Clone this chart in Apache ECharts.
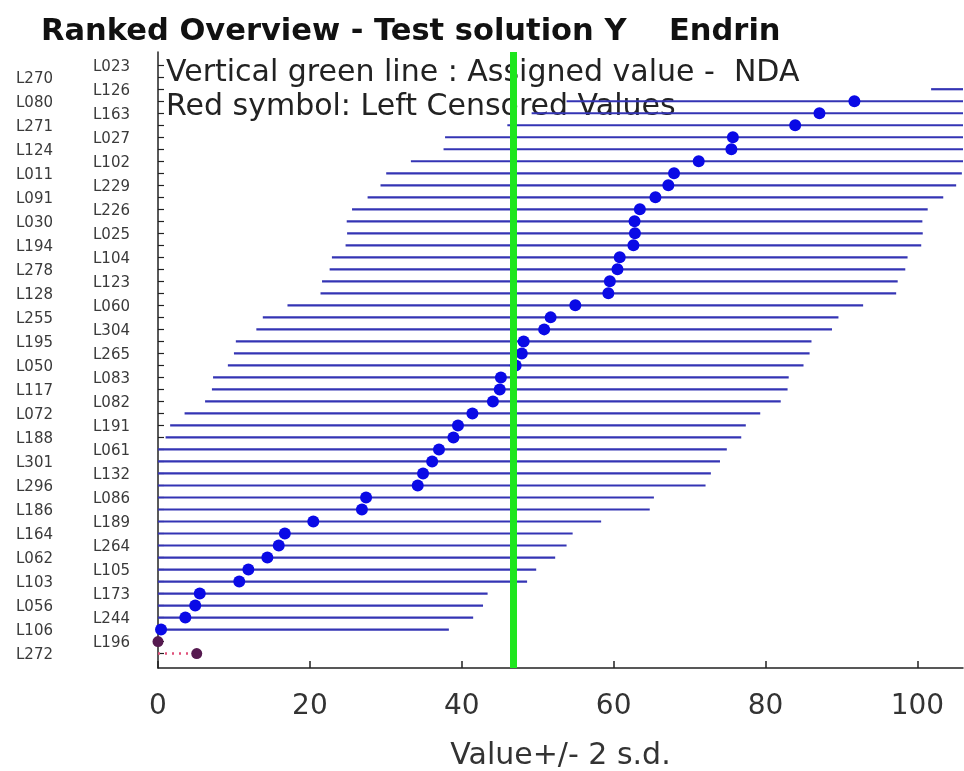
<!DOCTYPE html>
<html>
<head>
<meta charset="utf-8">
<script src="https://cdn.jsdelivr.net/npm/echarts@6/dist/echarts.min.js"></script>
<style>
html,body{margin:0;padding:0;background:#ffffff;}
#chart{width:964px;height:771px;}
</style>
</head>
<body>
<div id="chart"></div>
<script>
// Labs ranked from bottom (index 0) to top (index 49)
const labs = [
  'L272','L196','L106','L244','L056','L173','L103','L105','L062','L264',
  'L164','L189','L186','L086','L296','L132','L301','L061','L188','L191',
  'L072','L082','L117','L083','L050','L265','L195','L304','L255','L060',
  'L128','L123','L278','L104','L194','L025','L030','L226','L091','L229',
  'L011','L102','L124','L027','L271','L163','L080','L126','L270','L023'
];
// Reported values (top rows lie beyond the axis)
const values = [
  5.1, 0, 0.4, 3.6, 4.9, 5.5, 10.7, 11.9, 14.4, 15.9,
  16.7, 20.45, 26.85, 27.4, 34.2, 34.9, 36.1, 37.0, 38.9, 39.5,
  41.4, 44.1, 45.0, 45.15, 47.1, 47.9, 48.15, 50.85, 51.7, 54.95,
  59.3, 59.5, 60.5, 60.8, 62.6, 62.8, 62.75, 63.45, 65.5, 67.2,
  67.95, 71.2, 75.5, 75.7, 83.9, 87.1, 91.7, 139.7, 150, 160
];
// Left-censored flags (red symbols)
const censored = [
  1, 1, 0, 0, 0, 0, 0, 0, 0, 0,
  0, 0, 0, 0, 0, 0, 0, 0, 0, 0,
  0, 0, 0, 0, 0, 0, 0, 0, 0, 0,
  0, 0, 0, 0, 0, 0, 0, 0, 0, 0,
  0, 0, 0, 0, 0, 0, 0, 0, 0, 0
];
const twoSD = 37.9;
const assignedValue = 46.8;
const xTickValues = [0, 20, 40, 60, 80, 100];

const rowIndex = labs.map((_, i) => i);
const intervalData = [];
const pointData = [];
const censoredData = [];
const censoredLineData = [];
values.forEach((v, i) => {
  if (censored[i]) {
    censoredData.push([v, i]);
    if (v > 0) censoredLineData.push([0, v, i]);
  } else {
    intervalData.push([v - twoSD, v + twoSD, i]);
    pointData.push([v, i]);
  }
});

function hLine(color, width, dash) {
  return function (params, api) {
    const a = api.coord([api.value(0), api.value(2)]);
    const b = api.coord([api.value(1), api.value(2)]);
    const cs = params.coordSys;
    const x1 = Math.max(a[0], cs.x);
    const x2 = Math.min(b[0], cs.x + cs.width);
    if (x2 <= x1) return null;
    return {
      type: 'line',
      shape: { x1: x1, y1: a[1], x2: x2, y2: a[1] },
      style: { stroke: color, lineWidth: width, lineDash: dash || null }
    };
  };
}

const chart = echarts.init(document.getElementById('chart'), null, { renderer: 'canvas' });
const font = 'DejaVu Sans';

chart.setOption({
  backgroundColor: '#ffffff',
  animation: false,
  title: [
    {
      text: 'Ranked Overview - Test solution Y    Endrin',
      left: 36, top: 12,
      textStyle: { fontFamily: font, fontWeight: 'bold', fontSize: 30.5, color: '#111111' }
    },
    {
      text: 'Vertical green line : Assigned value -  NDA',
      left: 161, top: 53, z: 1,
      textStyle: { fontFamily: font, fontWeight: 'normal', fontSize: 30, color: '#222222' }
    },
    {
      text: 'Red symbol: Left Censored Values',
      left: 161, top: 87, z: 1,
      textStyle: { fontFamily: font, fontWeight: 'normal', fontSize: 30, color: '#222222' }
    }
  ],
  grid: { left: 158, right: 1, top: 52, bottom: 103, containLabel: false, outerBoundsMode: 'none' },
  xAxis: {
    type: 'value',
    min: 0, max: 106,
    name: 'Value+/- 2 s.d.',
    nameLocation: 'middle',
    nameGap: 73,
    nameTextStyle: { fontFamily: font, fontSize: 30, color: '#333333' },
    axisLine: { show: true, onZero: false, lineStyle: { color: '#222222', width: 1.5 } },
    axisTick: { show: true, inside: true, length: 7, customValues: xTickValues, lineStyle: { color: '#222222', width: 1.5 } },
    axisLabel: {
      customValues: xTickValues,
      fontFamily: font, fontSize: 28, color: '#333333', margin: 25
    },
    splitLine: { show: false }
  },
  yAxis: {
    type: 'value',
    min: -1.2, max: 50.1,
    axisLine: { show: true, onZero: false, lineStyle: { color: '#222222', width: 1.5 } },
    axisTick: { show: true, inside: true, length: 6, customValues: rowIndex, lineStyle: { color: '#222222', width: 1.2 } },
    axisLabel: {
      customValues: rowIndex,
      margin: 28,
      formatter: function (v) {
        const i = Math.round(v);
        const name = labs[i] || '';
        return i % 2 === 0 ? '{l|' + name + '}' : '{r|' + name + '}';
      },
      rich: {
        l: { fontFamily: font, fontSize: 15, color: '#3a3a3a', padding: [3, 77, 0, 0] },
        r: { fontFamily: font, fontSize: 15, color: '#3a3a3a', padding: [3, 0, 0, 0] }
      }
    },
    splitLine: { show: false }
  },
  series: [
    {
      name: 'interval',
      type: 'custom',
      z: 2,
      renderItem: hLine('#3434b4', 2.2),
      encode: { x: [0, 1], y: 2 },
      data: intervalData
    },
    {
      name: 'censoredLine',
      type: 'custom',
      z: 2,
      renderItem: hLine('#e0507a', 2.5, [2, 5]),
      encode: { x: [0, 1], y: 2 },
      data: censoredLineData
    },
    {
      name: 'value',
      type: 'scatter',
      z: 3,
      clip: true,
      symbol: 'circle',
      symbolSize: 12,
      itemStyle: { color: '#0a0ae6', opacity: 1 },
      data: pointData
    },
    {
      name: 'censored',
      type: 'scatter',
      z: 3,
      clip: false,
      symbol: 'circle',
      symbolSize: 11,
      itemStyle: { color: '#561a50', opacity: 1 },
      data: censoredData
    },
    {
      name: 'assigned',
      type: 'scatter',
      z: 4,
      data: [],
      markLine: {
        silent: true,
        symbol: 'none',
        label: { show: false },
        lineStyle: { color: '#1ee61e', width: 7, type: 'solid', opacity: 1 },
        data: [{ xAxis: assignedValue }]
      }
    }
  ]
});
</script>
</body>
</html>
